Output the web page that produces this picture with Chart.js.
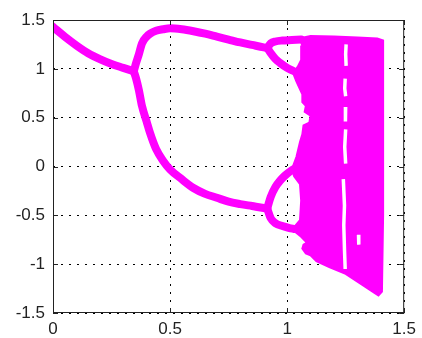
<!DOCTYPE html>
<html>
<head>
<meta charset="utf-8">
<script src="https://cdn.jsdelivr.net/npm/chart.js@4/dist/chart.umd.min.js"></script>
<style>
  html, body { margin: 0; padding: 0; background: #fff; }
  canvas { display: block; }
</style>
</head>
<body>
<canvas id="bifChart" width="422" height="338"></canvas>
<script>
// --- values (a on x axis, x on y axis) ---
const xTicks = [0, 0.5, 1, 1.5]
const yTicks = [-1.5, -1, -0.5, 0, 0.5, 1, 1.5]

// fixed point branch
const fixedA = [0, 0.05, 0.1, 0.15, 0.2, 0.25, 0.3, 0.345]
const fixedX = [1.43, 1.33, 1.24, 1.16, 1.10, 1.05, 1.01, 0.975]

// period 2 branches
const p2A = [0.345, 0.355, 0.367, 0.38, 0.40, 0.415, 0.44, 0.47, 0.50, 0.55, 0.60, 0.65, 0.70, 0.75, 0.80, 0.85, 0.90, 0.915]
const p2Upper = [0.975, 1.06, 1.15, 1.26, 1.33, 1.36, 1.39, 1.405, 1.415, 1.405, 1.385, 1.36, 1.33, 1.30, 1.27, 1.245, 1.22, 1.215]
const p2Lower = [0.975, 0.90, 0.78, 0.62, 0.46, 0.34, 0.18, 0.06, -0.03, -0.13, -0.22, -0.28, -0.32, -0.36, -0.385, -0.405, -0.425, -0.43]

// period 4 loops
const p4UpTopA = [0.915, 0.93, 0.95, 0.98, 1.02, 1.06]
const p4UpTopX = [1.215, 1.26, 1.28, 1.29, 1.295, 1.30]
const p4UpBotA = [0.915, 0.93, 0.95, 0.97, 1.0, 1.025]
const p4UpBotX = [1.215, 1.16, 1.10, 1.06, 1.01, 0.98]
const p4LoTopA = [0.915, 0.93, 0.95, 0.97, 0.99, 1.01, 1.025]
const p4LoTopX = [-0.43, -0.31, -0.21, -0.145, -0.095, -0.055, -0.03]
const p4LoBotA = [0.915, 0.93, 0.95, 0.98, 1.01, 1.03]
const p4LoBotX = [-0.43, -0.53, -0.58, -0.61, -0.63, -0.64]

// outline of the chaotic band (clockwise from top left)
const chaosA = [1.05, 1.10, 1.20, 1.30, 1.385, 1.41, 1.41, 1.41, 1.405, 1.39, 1.37, 1.32, 1.25, 1.18, 1.125, 1.10, 1.08,
  1.065, 1.07, 1.085, 1.06, 1.03, 1.03, 1.055, 1.06, 1.055, 1.03, 1.02, 1.04, 1.055, 1.065, 1.07, 1.095, 1.10, 1.075,
  1.08, 1.065, 1.065, 1.04, 1.025, 1.045, 1.06, 1.06]
const chaosX = [1.31, 1.335, 1.33, 1.32, 1.31, 1.29, 0.5, -0.5, -1.28, -1.32, -1.29, -1.21, -1.10, -1.03, -0.97, -0.91, -0.89,
  -0.84, -0.80, -0.78, -0.72, -0.66, -0.62, -0.55, -0.35, -0.18, -0.10, -0.03, 0.10, 0.25, 0.33, 0.42, 0.45, 0.52, 0.56,
  0.62, 0.66, 0.74, 0.87, 0.96, 1.02, 1.09, 1.24]

// white periodic windows inside the band (null = gap)
const holeA = [1.252, 1.25, 1.252, null, 1.248, 1.246, 1.25, null, 1.25, 1.248, 1.25, null, 1.25, 1.246, 1.25, null,
  1.24, 1.245, 1.242, 1.245, 1.248, null, 1.305, 1.306]
const holeX = [1.25, 1.15, 1.03, null, 0.90, 0.80, 0.72, null, 0.61, 0.53, 0.46, null, 0.38, 0.20, 0.03, null,
  -0.13, -0.40, -0.60, -0.85, -1.05, null, -0.70, -0.80]

const magenta = '#ff00ff'
const pts = (as, xs) => as.map((a, i) => ({ x: a, y: xs[i] }))

function branch(as, xs) {
  return {
    data: pts(as, xs), borderColor: magenta, borderWidth: 8, pointRadius: 0,
    cubicInterpolationMode: 'monotone', borderCapStyle: 'round', borderJoinStyle: 'round', fill: false
  }
}

// box and inward ticks like the original figure
const boxPlugin = {
  id: 'box',
  afterDraw(chart) {
    const { ctx, chartArea: ca, scales } = chart
    ctx.save()
    ctx.strokeStyle = '#222'
    ctx.lineWidth = 1
    ctx.strokeRect(ca.left + 0.5, ca.top + 0.5, ca.right - ca.left - 1, ca.bottom - ca.top - 1)
    ctx.beginPath()
    for (const v of xTicks) {
      const px = Math.round(scales.x.getPixelForValue(v)) + 0.5
      ctx.moveTo(px, ca.bottom); ctx.lineTo(px, ca.bottom - 5)
      ctx.moveTo(px, ca.top); ctx.lineTo(px, ca.top + 5)
    }
    for (const v of yTicks) {
      const py = Math.round(scales.y.getPixelForValue(v)) + 0.5
      ctx.moveTo(ca.left, py); ctx.lineTo(ca.left + 5, py)
      ctx.moveTo(ca.right, py); ctx.lineTo(ca.right - 5, py)
    }
    ctx.stroke()
    ctx.restore()
  }
}

const tickFont = { family: '"Liberation Sans", Arial, sans-serif', size: 17 }

new Chart(document.getElementById('bifChart').getContext('2d'), {
  type: 'line',
  data: {
    datasets: [
      { data: pts(holeA, holeX), borderColor: '#fff', borderWidth: 3.5, pointRadius: 0, tension: 0, fill: false, spanGaps: false },
      branch(fixedA, fixedX),
      branch(p2A, p2Upper),
      branch(p2A, p2Lower),
      branch(p4UpTopA, p4UpTopX),
      branch(p4UpBotA, p4UpBotX),
      branch(p4LoTopA, p4LoTopX),
      branch(p4LoBotA, p4LoBotX),
      { data: pts(chaosA, chaosX), borderColor: magenta, backgroundColor: magenta, borderWidth: 2, pointRadius: 0, tension: 0, fill: 'shape' }
    ]
  },
  options: {
    responsive: false, animation: false, devicePixelRatio: 1,
    layout: { padding: { top: 20, right: 13, left: 0, bottom: 0 } },
    scales: {
      x: {
        type: 'linear', min: 0, max: 1.5,
        afterBuildTicks: s => { s.ticks = xTicks.map(v => ({ value: v })) },
        afterFit: s => { s.height = 25 },
        ticks: { color: '#222', font: tickFont, padding: 6, maxRotation: 0, callback: v => String(v) },
        grid: { color: '#000', lineWidth: 1, drawTicks: false },
        border: { display: false, dash: [2, 6] }
      },
      y: {
        type: 'linear', min: -1.5, max: 1.5,
        afterBuildTicks: s => { s.ticks = yTicks.map(v => ({ value: v })) },
        afterFit: s => { s.width = 53 },
        ticks: { color: '#222', font: tickFont, padding: 8, callback: v => String(v) },
        grid: { color: '#000', lineWidth: 1, drawTicks: false },
        border: { display: false, dash: [2, 6] }
      }
    },
    plugins: { legend: { display: false }, tooltip: { enabled: false } }
  },
  plugins: [boxPlugin]
})
</script>
</body>
</html>
